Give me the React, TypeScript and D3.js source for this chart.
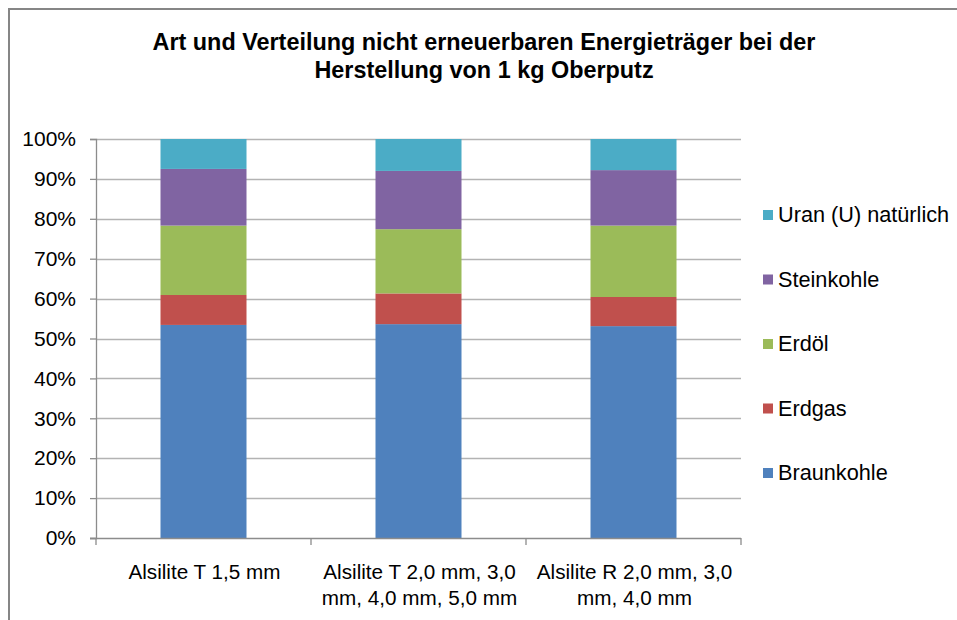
import React, { useEffect, useRef } from 'react';
import * as d3 from 'd3';

const categories = [
  ['Alsilite T 1,5 mm'],
  ['Alsilite T 2,0 mm, 3,0', 'mm, 4,0 mm, 5,0 mm'],
  ['Alsilite R 2,0 mm, 3,0', 'mm, 4,0 mm'],
];

const seriesNames = ['Braunkohle', 'Erdgas', 'Erdöl', 'Steinkohle', 'Uran (U) natürlich'];
const seriesColors = ['#4F81BD', '#C0504D', '#9BBB59', '#8064A2', '#4BACC6'];

// shares in percent, one array per series, one value per category
const braunkohle = [53.4, 53.6, 53.1];
const erdgas = [7.5, 7.7, 7.3];
const erdoel = [17.4, 16.1, 17.9];
const steinkohle = [14.2, 14.6, 13.9];
const uran = [7.5, 8.0, 7.8];

const yTicks = [0, 10, 20, 30, 40, 50, 60, 70, 80, 90, 100];

const titleLines = [
  'Art und Verteilung nicht erneuerbaren Energieträger bei der',
  'Herstellung von 1 kg Oberputz',
];

export default function App() {
  const ref = useRef<SVGSVGElement>(null);

  useEffect(() => {
    if (!ref.current) return;
    const svg = d3.select(ref.current);
    svg.selectAll('*').remove();

    const font = 'Arial, "Liberation Sans", sans-serif';
    const left = 96, right = 741, top = 139, bottom = 538;

    // outer chart frame
    svg.append('rect')
      .attr('x', 9).attr('y', 9)
      .attr('width', 980).attr('height', 640)
      .attr('fill', 'white')
      .attr('stroke', '#868686')
      .attr('stroke-width', 2);

    svg.append('g')
      .selectAll('text')
      .data(titleLines)
      .enter()
      .append('text')
      .attr('x', 484)
      .attr('y', (d, i) => 50 + i * 28)
      .attr('text-anchor', 'middle')
      .attr('font-family', font)
      .attr('font-weight', 'bold')
      .attr('font-size', '23.4px')
      .text((d) => d);

    const y = d3.scaleLinear().domain([0, 100]).range([bottom, top]);
    const x = d3.scaleBand<number>()
      .domain(categories.map((d, i) => i))
      .range([left, right])
      .paddingInner(0.6)
      .paddingOuter(0.3);

    // gridlines
    svg.append('g')
      .selectAll('line')
      .data(yTicks.filter((t) => t > 0))
      .enter()
      .append('line')
      .attr('x1', left).attr('x2', right)
      .attr('y1', (d) => Math.round(y(d)) + 0.5)
      .attr('y2', (d) => Math.round(y(d)) + 0.5)
      .attr('stroke', '#B3B3B3')
      .attr('stroke-width', 1.3);

    const rows = categories.map((c, i) => ({
      idx: i,
      Braunkohle: braunkohle[i],
      Erdgas: erdgas[i],
      'Erdöl': erdoel[i],
      Steinkohle: steinkohle[i],
      'Uran (U) natürlich': uran[i],
    }));
    const stacked = d3.stack<any>().keys(seriesNames)(rows);

    svg.append('g')
      .selectAll('g')
      .data(stacked)
      .enter()
      .append('g')
      .attr('fill', (d, i) => seriesColors[i])
      .selectAll('rect')
      .data((d) => d)
      .enter()
      .append('rect')
      .attr('x', (d: any) => x(d.data.idx)!)
      .attr('width', x.bandwidth())
      .attr('y', (d) => y(d[1]))
      .attr('height', (d) => y(d[0]) - y(d[1]));

    // y axis
    const yAxis = svg.append('g')
      .attr('transform', `translate(${left},0)`)
      .call(d3.axisLeft(y).tickValues(yTicks).tickSize(6).tickPadding(14).tickFormat((d) => `${d}%`));
    yAxis.select('.domain').attr('stroke', '#8C8C8C').attr('stroke-width', 1.3);
    yAxis.selectAll('.tick line').attr('stroke', '#8C8C8C').attr('stroke-width', 1.3);
    yAxis.selectAll('text')
      .attr('font-family', font)
      .attr('font-size', '21px')
      .attr('fill', '#000');

    // x axis
    const boundaries = [0, 1, 2, 3].map((i) => left + i * x.step());
    const xAxis = svg.append('g');
    xAxis.append('line')
      .attr('x1', left - 6).attr('x2', right)
      .attr('y1', bottom + 0.5).attr('y2', bottom + 0.5)
      .attr('stroke', '#8C8C8C').attr('stroke-width', 1.3);
    xAxis.selectAll('line.tk')
      .data(boundaries)
      .enter()
      .append('line')
      .attr('class', 'tk')
      .attr('x1', (d) => d).attr('x2', (d) => d)
      .attr('y1', bottom).attr('y2', bottom + 7)
      .attr('stroke', '#8C8C8C').attr('stroke-width', 1.3);

    const labels = xAxis.selectAll('text')
      .data(categories)
      .enter()
      .append('text')
      .attr('text-anchor', 'middle')
      .attr('font-family', font)
      .attr('font-size', '20.7px')
      .attr('fill', '#000');
    labels.each(function (d, i) {
      const cx = x(i)! + x.bandwidth() / 2 + 1;
      d3.select(this)
        .selectAll('tspan')
        .data(d)
        .enter()
        .append('tspan')
        .attr('x', cx)
        .attr('y', (s, j) => 579 + j * 26)
        .text((s) => s);
    });

    // legend
    const legendNames = seriesNames.slice().reverse();
    const legendColors = seriesColors.slice().reverse();
    const legend = svg.append('g')
      .selectAll('g')
      .data(legendNames)
      .enter()
      .append('g')
      .attr('transform', (d, i) => `translate(763,${215 + i * 64.5})`);
    legend.append('rect')
      .attr('x', 0).attr('y', -5)
      .attr('width', 10).attr('height', 10)
      .attr('fill', (d, i) => legendColors[i]);
    legend.append('text')
      .attr('x', 15).attr('y', 7)
      .attr('font-family', font)
      .attr('font-size', '21.7px')
      .attr('fill', '#000')
      .text((d) => d);
  }, []);

  return (
    <div style={{ position: 'absolute', left: 0, top: 0 }}>
      <svg ref={ref} width={957} height={620}></svg>
    </div>
  );
}
